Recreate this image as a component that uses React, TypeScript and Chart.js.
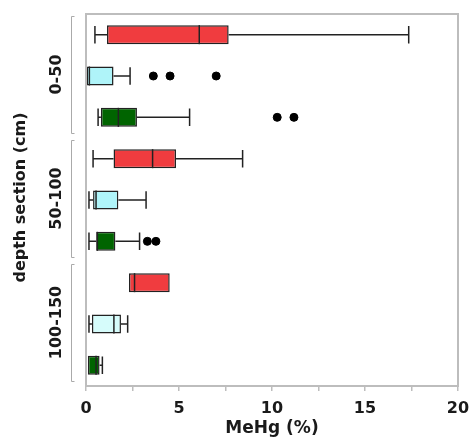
import React, { useEffect, useRef } from "react";
import { Chart, registerables } from "chart.js";

Chart.register(...registerables);

// Nine boxes: three depth sections x three series (red, cyan, green)
const groups = ["0-50", "50-100", "100-150"];
const categories = [
  "0-50 red", "0-50 cyan", "0-50 green",
  "50-100 red", "50-100 cyan", "50-100 green",
  "100-150 red", "100-150 cyan", "100-150 green",
];
const whiskerLow = [0.48, 0.03, 0.65, 0.38, 0.16, 0.16, 2.31, 0.16, 0.1];
const q1 = [1.13, 0.03, 0.8, 1.48, 0.38, 0.55, 2.31, 0.32, 0.1];
const median = [6.09, 0.18, 1.74, 3.58, 0.54, 0.61, 2.61, 1.5, 0.54];
const q3 = [7.67, 1.48, 2.74, 4.84, 1.74, 1.58, 4.5, 1.88, 0.73];
const whiskerHigh = [17.35, 2.37, 5.57, 8.42, 3.23, 2.88, 4.5, 2.24, 0.88];
const outlierCategory = [1, 1, 1, 2, 2, 5, 5];
const outlierValue = [3.62, 4.52, 7.0, 10.28, 11.18, 3.3, 3.76];
const boxColors = [
  "#f03c3f", "#aff4f9", "#006400",
  "#f03c3f", "#aff4f9", "#006400",
  "#f03c3f", "#d6fcfb", "#006400",
];
const xTicks = [0, 5, 10, 15, 20];

const FONT = "'DejaVu Sans', 'Liberation Sans', Arial, sans-serif";

const boxPlugin = {
  id: "boxExtras",
  beforeDatasetsDraw(chart: any) {
    const { ctx, scales } = chart;
    const xs = scales.x, ys = scales.y;
    const meta = chart.getDatasetMeta(0);
    ctx.save();
    ctx.strokeStyle = "#222";
    ctx.lineWidth = 1.5;
    categories.forEach((_, i) => {
      const y = ys.getPixelForValue(i);
      const h = meta.data[i] ? meta.data[i].height : 18;
      const cap = h * 0.92;
      const lo = xs.getPixelForValue(whiskerLow[i]);
      const hi = xs.getPixelForValue(whiskerHigh[i]);
      const a = xs.getPixelForValue(q1[i]);
      const b = xs.getPixelForValue(q3[i]);
      ctx.beginPath();
      if (lo < a - 0.5) {
        ctx.moveTo(lo, y); ctx.lineTo(a, y);
        ctx.moveTo(lo, y - cap / 2); ctx.lineTo(lo, y + cap / 2);
      }
      if (hi > b + 0.5) {
        ctx.moveTo(b, y); ctx.lineTo(hi, y);
        ctx.moveTo(hi, y - cap / 2); ctx.lineTo(hi, y + cap / 2);
      }
      ctx.stroke();
    });
    ctx.restore();
  },
  afterDatasetsDraw(chart: any) {
    const { ctx, scales, chartArea } = chart;
    const xs = scales.x, ys = scales.y;
    const meta = chart.getDatasetMeta(0);
    ctx.save();
    // medians
    ctx.strokeStyle = "#222";
    ctx.lineWidth = 1.5;
    categories.forEach((_, i) => {
      const y = ys.getPixelForValue(i);
      const h = meta.data[i] ? meta.data[i].height : 18;
      const m = xs.getPixelForValue(median[i]);
      ctx.beginPath();
      ctx.moveTo(m, y - h / 2);
      ctx.lineTo(m, y + h / 2);
      ctx.stroke();
    });
    // frame
    ctx.strokeStyle = "#bdbdbd";
    ctx.lineWidth = 2;
    ctx.strokeRect(chartArea.left, chartArea.top, chartArea.right - chartArea.left, chartArea.bottom - chartArea.top);
    // group brackets and labels
    const step = (ys.getPixelForValue(1) - ys.getPixelForValue(0));
    const bx = 71;
    groups.forEach((g, gi) => {
      const top = ys.getPixelForValue(gi * 3) - step / 2 + 2;
      const bot = ys.getPixelForValue(gi * 3 + 2) + step / 2 - 5;
      ctx.strokeStyle = "#aaaaaa";
      ctx.lineWidth = 1;
      ctx.beginPath();
      ctx.moveTo(bx + 3.5, top + 0.5); ctx.lineTo(bx + 0.5, top + 0.5);
      ctx.lineTo(bx + 0.5, bot + 0.5); ctx.lineTo(bx + 3.5, bot + 0.5);
      ctx.stroke();
      ctx.save();
      ctx.translate(57, (top + bot) / 2);
      ctx.rotate(-Math.PI / 2);
      ctx.fillStyle = "#1a1a1a";
      ctx.font = `bold 16px ${FONT}`;
      ctx.textAlign = "center";
      ctx.textBaseline = "middle";
      ctx.fillText(g, 0, 0);
      ctx.restore();
    });
    // y title
    ctx.save();
    ctx.translate(21, (chartArea.top + chartArea.bottom) / 2 - 2.5);
    ctx.rotate(-Math.PI / 2);
    ctx.fillStyle = "#1a1a1a";
    ctx.font = `bold 16px ${FONT}`;
    ctx.textAlign = "center";
    ctx.textBaseline = "middle";
    ctx.fillText("depth section (cm)", 0, 0);
    ctx.restore();
    ctx.restore();
  },
};

export default function App() {
  const ref = useRef<HTMLCanvasElement>(null);
  useEffect(() => {
    if (!ref.current) return;
    const chart = new Chart(ref.current, {
      type: "bar",
      data: {
        labels: categories,
        datasets: [
          {
            type: "bar",
            data: q1.map((v, i) => [v, q3[i]]) as any,
            backgroundColor: boxColors,
            borderColor: "#222",
            borderWidth: 1.5,
            borderSkipped: false,
            barPercentage: 0.46,
            categoryPercentage: 1,
          } as any,
          {
            type: "scatter",
            data: outlierValue.map((v, i) => ({ x: v, y: categories[outlierCategory[i]] })) as any,
            backgroundColor: "#000",
            borderColor: "#000",
            pointRadius: 4,
            pointHoverRadius: 4,
          } as any,
        ],
      },
      options: {
        indexAxis: "y",
        animation: false,
        responsive: false,
        maintainAspectRatio: false,
        layout: { padding: { left: 86, top: 14, right: 11, bottom: 0 } },
        plugins: { legend: { display: false }, tooltip: { enabled: false } },
        scales: {
          x: {
            type: "linear",
            min: 0,
            max: 20,
            border: { display: false },
            grid: { drawOnChartArea: false, drawTicks: true, tickLength: 5, color: "#bdbdbd", lineWidth: 1.5 },
            ticks: {
              stepSize: 2.5,
              autoSkip: false,
              maxRotation: 0,
              padding: 8,
              color: "#1a1a1a",
              font: { family: FONT, size: 16, weight: "bold" },
              callback: (v: any) => (xTicks.includes(Number(v)) ? String(v) : ""),
            },
            title: {
              display: true,
              text: "MeHg (%)",
              color: "#1a1a1a",
              font: { family: FONT, size: 17, weight: "bold" },
              padding: { top: 2, bottom: 3 },
            },
            afterFit: (s: any) => { s.height = 56; s.paddingLeft = 0; s.paddingRight = 0; },
          },
          y: {
            type: "category",
            offset: true,
            border: { display: false },
            grid: { display: false },
            ticks: { display: false },
            afterFit: (s: any) => { s.width = 0; },
          },
        },
      },
      plugins: [boxPlugin],
    } as any);
    return () => chart.destroy();
  }, []);
  return (
    <div style={{ position: "fixed", left: 0, top: 0, width: 469, height: 442, background: "#fff" }}>
      <canvas ref={ref} width={469} height={442} style={{ width: 469, height: 442 }} />
    </div>
  );
}
